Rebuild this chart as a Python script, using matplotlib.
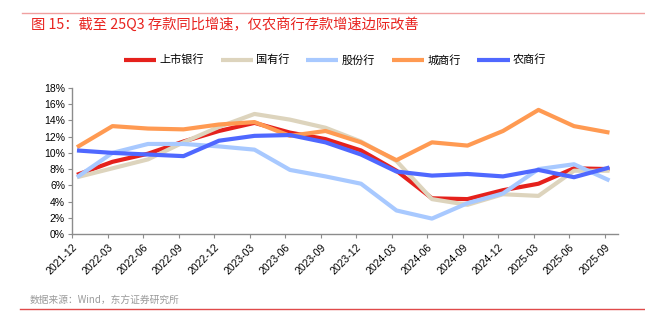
import numpy as np
import matplotlib
matplotlib.use('Agg')
import matplotlib.pyplot as plt
from matplotlib.ticker import FuncFormatter

plt.rcParams['font.family'] = ['Liberation Sans', 'Noto Sans CJK SC', 'DejaVu Sans']

# ---[DATA]---
quarters = ['2021-12', '2022-03', '2022-06', '2022-09', '2022-12', '2023-03', '2023-06', '2023-09',
            '2023-12', '2024-03', '2024-06', '2024-09', '2024-12', '2025-03', '2025-06', '2025-09']
listed = [7.3, 8.9, 9.9, 11.4, 12.7, 13.7, 12.5, 11.7, 10.3, 7.8, 4.4, 4.3, 5.4, 6.2, 8.1, 8.0]
state_owned = [7.0, 8.1, 9.2, 11.3, 13.2, 14.8, 14.1, 13.1, 11.4, 9.0, 4.3, 3.6, 4.9, 4.7, 7.8, 7.8]
joint_stock = [7.0, 10.0, 11.1, 11.1, 10.8, 10.4, 7.9, 7.1, 6.2, 2.9, 1.9, 3.8, 5.0, 8.0, 8.6, 6.6]
city = [10.7, 13.3, 13.0, 12.9, 13.5, 13.8, 12.1, 12.7, 11.3, 9.1, 11.3, 10.9, 12.7, 15.3, 13.3, 12.5]
rural = [10.3, 10.0, 9.8, 9.6, 11.5, 12.1, 12.2, 11.3, 9.8, 7.7, 7.2, 7.4, 7.1, 7.9, 7.0, 8.2]

series = [
    ('上市银行', listed, '#e5211c'),
    ('国有行', state_owned, '#ddd4bd'),
    ('股份行', joint_stock, '#a8c9ff'),
    ('城商行', city, '#ff9a52'),
    ('农商行', rural, '#4f68ff'),
]
# ---------------

fig = plt.figure(figsize=(6.45, 3.24), dpi=100)
ax = fig.add_axes([72 / 645, 1 - 234 / 324, 546 / 645, 146 / 324])

x = np.arange(len(quarters))
for name, vals, col in series:
    ax.plot(x, vals, color=col, lw=3.0, label=name, solid_capstyle='butt')

ax.set_xlim(-0.14, 15.24)
ax.set_ylim(0, 18)
ax.set_yticks(np.arange(0, 19, 2))
ax.yaxis.set_major_formatter(FuncFormatter(lambda v, p: '{:.0f}%'.format(v)))
ax.set_xticks(x - 0.14)
ax.set_xticklabels(quarters, rotation=45, ha='right', va='top', rotation_mode='anchor')

for side in ['top', 'right']:
    ax.spines[side].set_visible(False)
for side in ['left', 'bottom']:
    ax.spines[side].set_color('#8c8c8c')
    ax.spines[side].set_linewidth(1.0)
ax.tick_params(axis='both', direction='out', length=3, width=0.8, color='#8c8c8c',
               labelsize=7.5, labelcolor='#000000', pad=2)
ax.tick_params(axis='x', pad=3)

leg = fig.legend(loc='center', bbox_to_anchor=(335 / 645, 1 - 60 / 324), ncol=5, frameon=False,
                 prop={'family': ['Noto Sans CJK SC'], 'size': 8}, handlelength=2.9,
                 columnspacing=1.5, handletextpad=0.3)
for line in leg.get_lines():
    line.set_linewidth(3.0)

# header / footer
fig.add_artist(plt.Line2D([22 / 645, 1], [1 - 13 / 324] * 2, color='#f0a0a0', lw=1.0))
fig.text(31 / 645, 1 - 25 / 324, '图 15：截至 25Q3 存款同比增速，仅农商行存款增速边际改善',
         color='#e8231f', fontsize=10.3, fontweight='medium', va='center', ha='left',
         family=['Noto Sans CJK SC', 'DejaVu Sans'])
fig.text(30 / 645, 1 - 300 / 324, '数据来源：Wind，东方证券研究所', color='#9a9a9a', fontsize=7,
         va='center', ha='left', family=['Noto Sans CJK SC', 'DejaVu Sans'])
fig.add_artist(plt.Line2D([20 / 645, 1], [1 - 309 / 324] * 2, color='#e04a4a', lw=1.0))

fig.savefig('out.png', dpi=100)
